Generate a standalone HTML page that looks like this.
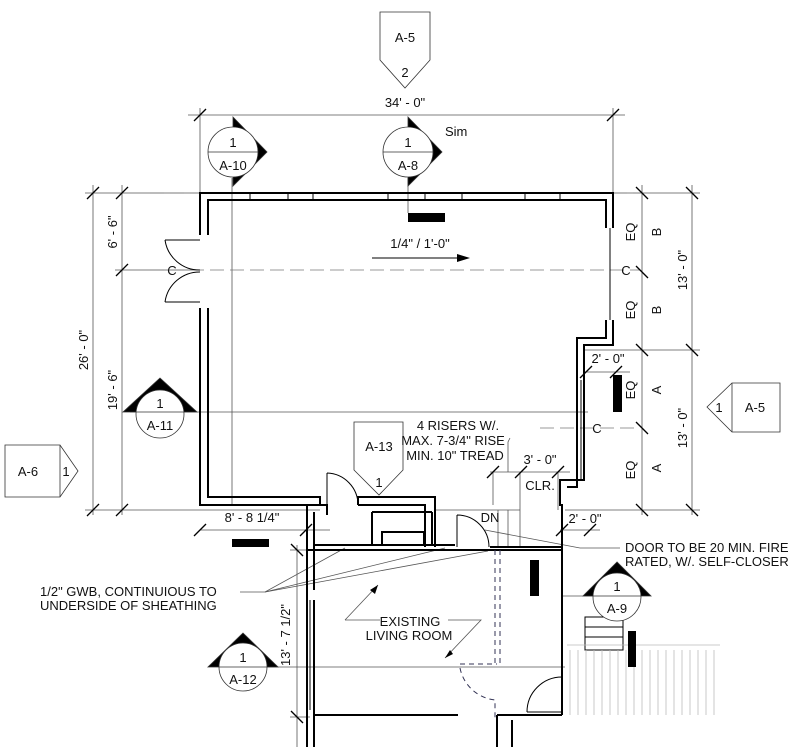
<!DOCTYPE html>
<html><head><meta charset="utf-8"><style>
html,body{margin:0;padding:0;background:#fff;}
svg{display:block;font-family:"Liberation Sans",Arial,sans-serif;}
</style></head><body>
<svg width="789" height="747" viewBox="0 0 789 747" xmlns="http://www.w3.org/2000/svg">
<g stroke="#555" stroke-width="0.8" fill="none">
<!-- top dimension -->
<line x1="188" y1="115" x2="625" y2="115"/>
<line x1="200" y1="108" x2="200" y2="193"/>
<line x1="613" y1="108" x2="613" y2="193"/>
<!-- left dims -->
<line x1="93" y1="185" x2="93" y2="515"/>
<line x1="122" y1="185" x2="122" y2="515"/>
<line x1="85" y1="193" x2="200" y2="193"/>
<line x1="115" y1="270" x2="200" y2="270"/>
<line x1="85" y1="510" x2="320" y2="510"/>
<line x1="130" y1="412" x2="588" y2="412"/>
<!-- right dims -->
<line x1="642" y1="185" x2="642" y2="515"/>
<line x1="692" y1="185" x2="692" y2="515"/>
<line x1="613" y1="193" x2="700" y2="193"/>
<line x1="585" y1="350" x2="700" y2="350"/>
<line x1="565" y1="510" x2="700" y2="510"/>
<line x1="585" y1="372" x2="630" y2="372"/>
<!-- lower dims -->
<line x1="297" y1="545" x2="297" y2="747"/>
<line x1="200" y1="530" x2="330" y2="530"/>
<line x1="290" y1="550" x2="310" y2="550"/>
<line x1="290" y1="717" x2="310" y2="717"/>
<line x1="560" y1="530" x2="600" y2="530"/>
<line x1="490" y1="472" x2="570" y2="472"/>
<line x1="493" y1="472" x2="493" y2="505"/>
<line x1="520" y1="472" x2="520" y2="510"/>
<line x1="558" y1="472" x2="558" y2="510"/>
<line x1="232" y1="178" x2="232" y2="505"/>
<line x1="408" y1="178" x2="408" y2="213"/>
<line x1="562" y1="596" x2="640" y2="596"/>
<line x1="220" y1="667" x2="565" y2="667"/>
<!-- stairs -->
<line x1="435" y1="510" x2="520" y2="510"/>
<line x1="520" y1="510" x2="520" y2="547"/>
<line x1="498" y1="510" x2="498" y2="547"/>
<line x1="508" y1="510" x2="508" y2="547"/>
<!-- leaders -->
<polyline points="240,592 265,592 345,548"/>
<polyline points="265,592 445,548"/>
<polyline points="265,592 488,551"/>
<polyline points="510,438 508,442 508,472"/>
<polyline points="620,548 580,548 485,530"/>
<polyline points="345,620 380,620"/>
<polyline points="345,620 378,585"/>
<polyline points="448,620 481,620 445,658"/>
</g>
<!-- centerlines dashed -->
<g stroke="#777" stroke-width="0.8" stroke-dasharray="14,6" fill="none">
<line x1="150" y1="270" x2="640" y2="270"/>
<line x1="540" y1="428" x2="640" y2="428"/>
<line x1="150" y1="193" x2="200" y2="193"/>
<line x1="613" y1="193" x2="640" y2="193"/>
</g>
<!-- walls -->
<g stroke="#000" stroke-width="2" fill="none">
<polyline points="200,235 200,193 613,193 613,228"/>
<polyline points="208,235 208,200 606,200 606,228"/>
<polyline points="200,308 200,505 327,505 327,515"/>
<polyline points="208,308 208,497 320,497 320,505"/>
<polyline points="358,505 358,497 435,497 435,547"/>
<polyline points="358,505 425,505 425,547"/>
<polyline points="613,320 613,345 584,345 584,480 560,480 560,505 562,505 562,715"/>
<polyline points="606,320 606,338 577,338 577,487 567,487"/>
<polyline points="307,505 307,747"/>
<polyline points="314,512 314,590"/>
<polyline points="314,600 314,747"/>
<polyline points="307,550 562,550"/>
<polyline points="314,545 455,545"/>
<polyline points="314,715 458,715"/>
<polyline points="497,715 562,715"/>
<polyline points="497,715 497,747"/>
<polyline points="512,720 512,747"/>
<polyline points="490,547 562,547"/>
<line x1="372" y1="512" x2="372" y2="545"/>
<line x1="432" y1="512" x2="432" y2="545"/>
<line x1="372" y1="512" x2="432" y2="512"/>
<rect x="382" y="532" width="42" height="13"/>
</g>
<g stroke="#fff" stroke-width="4">
<line x1="255" y1="196" x2="310" y2="196"/>
<line x1="340" y1="196" x2="385" y2="196"/>
<line x1="432" y1="196" x2="470" y2="196"/>
<line x1="520" y1="196" x2="560" y2="196"/>
</g>
<g stroke="#000" stroke-width="1" fill="none">
<line x1="250" y1="193" x2="250" y2="200"/><line x1="313" y1="193" x2="313" y2="200"/>
<line x1="288" y1="193" x2="288" y2="200"/><line x1="388" y1="193" x2="388" y2="200"/>
<line x1="425" y1="193" x2="425" y2="200"/><line x1="462" y1="193" x2="462" y2="200"/>
<line x1="525" y1="193" x2="525" y2="200"/><line x1="560" y1="193" x2="560" y2="200"/>
<line x1="610" y1="228" x2="610" y2="320"/>
<line x1="581" y1="380" x2="581" y2="480"/>
<line x1="310" y1="600" x2="310" y2="710"/>
<!-- doors -->
<path d="M200,240 L165,240 M165,240 A35,35 0 0 0 200,270"/>
<path d="M200,302 L165,302 M165,302 A35,35 0 0 1 200,272"/>
<path d="M327,473 L327,505 M327,473 A32,32 0 0 1 358,505"/>
<path d="M457,515 L457,547 M457,515 A32,32 0 0 1 489,547"/>
<path d="M527,712 L562,712 M527,712 A35,35 0 0 1 562,677"/>
<rect x="585" y="617" width="38" height="33"/>
<line x1="585" y1="627" x2="623" y2="627"/><line x1="585" y1="637" x2="623" y2="637"/>
</g>
<g stroke="#bbb" stroke-width="0.8">
<path d="M567,645 H720 M570,650 V715 M578,650 V715 M586,650 V715 M594,650 V715 M602,650 V715 M610,650 V715 M618,650 V715 M626,650 V715 M634,650 V715 M642,650 V715 M650,650 V715 M658,650 V715 M666,650 V715 M674,650 V715 M682,650 V715 M690,650 V715 M698,650 V715 M706,650 V715 M714,650 V715"/>
</g>
<!-- blue dashed -->
<g stroke="#335" stroke-width="1" stroke-dasharray="5,4" fill="none">
<line x1="495" y1="550" x2="495" y2="665"/>
<line x1="500" y1="550" x2="500" y2="665"/>
<line x1="460" y1="664" x2="497" y2="664"/>
<path d="M460,668 A40,40 0 0 0 495,700 L495,720"/>
</g>
<!-- ticks -->
<g stroke="#000" stroke-width="1.3">
<line x1="194" y1="121" x2="206" y2="109"/><line x1="607" y1="121" x2="619" y2="109"/>
<line x1="116" y1="199" x2="128" y2="187"/><line x1="116" y1="276" x2="128" y2="264"/><line x1="116" y1="516" x2="128" y2="504"/>
<line x1="87" y1="199" x2="99" y2="187"/><line x1="87" y1="516" x2="99" y2="504"/>
<line x1="636" y1="187" x2="648" y2="199"/><line x1="636" y1="266" x2="648" y2="278"/><line x1="636" y1="344" x2="648" y2="356"/><line x1="636" y1="422" x2="648" y2="434"/><line x1="636" y1="504" x2="648" y2="516"/>
<line x1="686" y1="187" x2="698" y2="199"/><line x1="686" y1="344" x2="698" y2="356"/><line x1="686" y1="504" x2="698" y2="516"/>
<line x1="580" y1="378" x2="592" y2="366"/><line x1="610" y1="378" x2="622" y2="366"/>
<line x1="487" y1="478" x2="499" y2="466"/><line x1="515" y1="478" x2="527" y2="466"/><line x1="552" y1="478" x2="564" y2="466"/>
<line x1="556" y1="536" x2="568" y2="524"/><line x1="584" y1="536" x2="596" y2="524"/>
<line x1="300" y1="536" x2="312" y2="524"/><line x1="194" y1="536" x2="206" y2="524"/>
<line x1="291" y1="544" x2="303" y2="556"/><line x1="291" y1="711" x2="303" y2="723"/>
</g>
<!-- arrow 1/4 -->
<line x1="372" y1="258" x2="460" y2="258" stroke="#000" stroke-width="1"/>
<polygon points="470,258 457,254 457,262" fill="#000"/>
<polygon points="378,585 370,590 375,594" fill="#000"/>
<polygon points="445,658 450,650 453,654" fill="#000"/>
<!-- black bars -->
<g fill="#000">
<rect x="408" y="213" width="37" height="9"/>
<rect x="232" y="539" width="37" height="8"/>
<rect x="530" y="560" width="9" height="36"/>
<rect x="613" y="375" width="9" height="37"/>
<rect x="628" y="631" width="8" height="36"/>
</g>
<!-- section markers -->
<g stroke="#333" stroke-width="0.8">
<polygon points="233,117 267,152 233,186" fill="#000"/>
<circle cx="233" cy="152" r="25" fill="#fff"/><line x1="208" y1="152" x2="258" y2="152"/>
<polygon points="408,117 442,152 408,186" fill="#000"/>
<circle cx="408" cy="152" r="25" fill="#fff"/><line x1="383" y1="152" x2="433" y2="152"/>
<polygon points="160,378 123,412 197,412" fill="#000"/>
<circle cx="160" cy="414" r="24" fill="#fff"/><line x1="136" y1="412" x2="184" y2="412"/>
<polygon points="243,633 208,667 278,667" fill="#000"/>
<circle cx="243" cy="667" r="24" fill="#fff"/><line x1="219" y1="667" x2="267" y2="667"/>
<polygon points="617,562 583,596 651,596" fill="#000"/>
<circle cx="617" cy="597" r="24" fill="#fff"/><line x1="593" y1="596" x2="641" y2="596"/>
<polygon points="380,12 430,12 430,60 405,88 380,60" fill="#fff"/>
<polygon points="732,383 780,383 780,432 732,432 707,407" fill="#fff"/>
<line x1="732" y1="383" x2="732" y2="432"/>
<polygon points="5,445 60,445 78,471 60,497 5,497" fill="#fff"/>
<line x1="60" y1="445" x2="60" y2="497"/>
<polygon points="354,422 403,422 403,470 379,495 354,470" fill="#fff"/>
</g>
<g font-size="13" fill="#111" text-anchor="middle">
<text x="405" y="42">A-5</text><text x="405" y="77">2</text>
<text x="755" y="412">A-5</text><text x="719" y="412">1</text>
<text x="28" y="476">A-6</text><text x="66" y="476">1</text>
<text x="379" y="451">A-13</text><text x="379" y="487">1</text>
<text x="233" y="147">1</text><text x="233" y="170">A-10</text>
<text x="408" y="147">1</text><text x="408" y="170">A-8</text>
<text x="160" y="408">1</text><text x="160" y="430">A-11</text>
<text x="243" y="662">1</text><text x="243" y="684">A-12</text>
<text x="617" y="591">1</text><text x="617" y="613">A-9</text>
<text x="405" y="107">34' - 0"</text>
<text x="445" y="136" text-anchor="start">Sim</text>
<text x="420" y="248">1/4" / 1'-0"</text>
<text x="458" y="430">4 RISERS W/.</text>
<text x="453" y="445">MAX. 7-3/4" RISE</text>
<text x="455" y="460">MIN. 10" TREAD</text>
<text x="540" y="464">3' - 0"</text>
<text x="540" y="490">CLR.</text>
<text x="608" y="363">2' - 0"</text>
<text x="585" y="523">2' - 0"</text>
<text x="252" y="522">8' - 8 1/4"</text>
<text x="490" y="522">DN</text>
<text x="410" y="626">EXISTING</text>
<text x="409" y="640">LIVING ROOM</text>
<text x="40" y="596" text-anchor="start">1/2" GWB, CONTINUIOUS TO</text>
<text x="40" y="610" text-anchor="start">UNDERSIDE OF SHEATHING</text>
<text x="625" y="552" text-anchor="start">DOOR TO BE 20 MIN. FIRE</text>
<text x="625" y="566" text-anchor="start">RATED, W/. SELF-CLOSER</text>
<text x="172" y="275">C</text><text x="626" y="275">C</text><text x="597" y="433">C</text>
<text transform="translate(117,232) rotate(-90)">6' - 6"</text>
<text transform="translate(117,390) rotate(-90)">19' - 6"</text>
<text transform="translate(88,350) rotate(-90)">26' - 0"</text>
<text transform="translate(687,270) rotate(-90)">13' - 0"</text>
<text transform="translate(687,428) rotate(-90)">13' - 0"</text>
<text transform="translate(290,635) rotate(-90)">13' - 7 1/2"</text>
<text transform="translate(635,232) rotate(-90)">EQ</text>
<text transform="translate(635,310) rotate(-90)">EQ</text>
<text transform="translate(635,390) rotate(-90)">EQ</text>
<text transform="translate(635,470) rotate(-90)">EQ</text>
<text transform="translate(661,232) rotate(-90)">B</text>
<text transform="translate(661,310) rotate(-90)">B</text>
<text transform="translate(661,390) rotate(-90)">A</text>
<text transform="translate(661,468) rotate(-90)">A</text>
</g>
</svg>
</body></html>
